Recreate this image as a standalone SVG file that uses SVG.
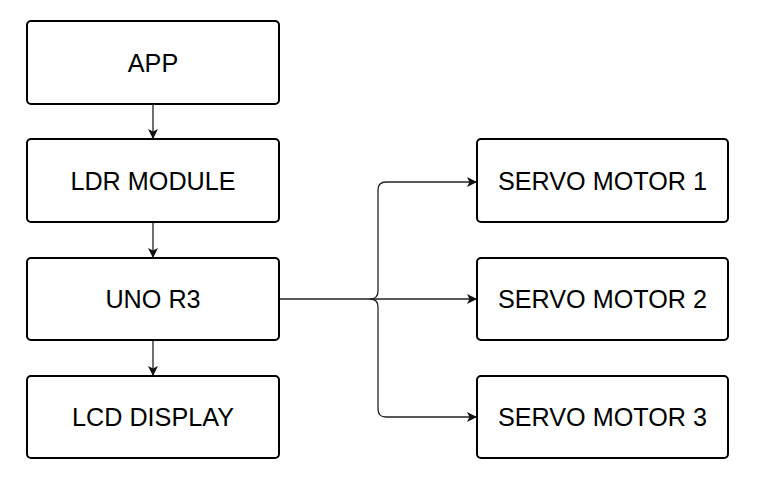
<svg xmlns="http://www.w3.org/2000/svg" width="757" height="493" viewBox="0 0 757 493">
<defs>
<style>
.box{fill:#fff;stroke:#000;stroke-width:2}
.lbl{font-family:"Liberation Sans",Arial,sans-serif;font-size:25.2px;fill:#000;text-anchor:middle;dominant-baseline:central}
.edge{fill:none;stroke:#222;stroke-width:1.3}
</style>
<marker id="ah" viewBox="0 0 10 10" refX="10" refY="5" markerWidth="10" markerHeight="10" markerUnits="userSpaceOnUse" orient="auto">
<path d="M0,0 L10,5 L0,10 L2.5,5 Z" fill="#111"/>
</marker>
</defs>
<rect width="757" height="493" fill="#fff"/>
<g id="connectors">
<path class="edge" d="M153,104 V139" marker-end="url(#ah)"/>
<path class="edge" d="M153,222 V258" marker-end="url(#ah)"/>
<path class="edge" d="M153,340 V376" marker-end="url(#ah)"/>
<path class="edge" d="M279,299 H477" marker-end="url(#ah)"/>
<path class="edge" d="M370,299 Q378,299 378,291 V190 Q378,182 386,182 H477" marker-end="url(#ah)"/>
<path class="edge" d="M370,299 Q378,299 378,307 V409 Q378,417 386,417 H477" marker-end="url(#ah)"/>
</g>
<g id="app"><rect class="box" x="27" y="21" width="252" height="83" rx="4"/><text class="lbl" x="153" y="63">APP</text></g>
<g id="ldr"><rect class="box" x="27" y="139" width="252" height="83" rx="4"/><text class="lbl" x="153" y="181">LDR MODULE</text></g>
<g id="uno"><rect class="box" x="27" y="258" width="252" height="82" rx="4"/><text class="lbl" x="153" y="299">UNO R3</text></g>
<g id="lcd"><rect class="box" x="27" y="376" width="252" height="82" rx="4"/><text class="lbl" x="153" y="417">LCD DISPLAY</text></g>
<g id="servo1"><rect class="box" x="477" y="139" width="251" height="83" rx="4"/><text class="lbl" x="602.5" y="181">SERVO MOTOR 1</text></g>
<g id="servo2"><rect class="box" x="477" y="258" width="251" height="82" rx="4"/><text class="lbl" x="602.5" y="299">SERVO MOTOR 2</text></g>
<g id="servo3"><rect class="box" x="477" y="376" width="251" height="82" rx="4"/><text class="lbl" x="602.5" y="417">SERVO MOTOR 3</text></g>
</svg>
